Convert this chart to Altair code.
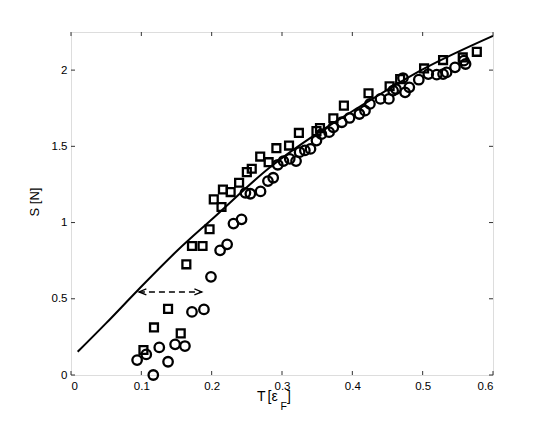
import altair as alt
import pandas as pd

# squares
sq_T = [0.103, 0.118, 0.138, 0.156, 0.164, 0.172, 0.187, 0.197, 0.203, 0.214, 0.216,
        0.227, 0.239, 0.250, 0.257, 0.269, 0.281, 0.292, 0.310, 0.324, 0.349, 0.354,
        0.373, 0.388, 0.423, 0.453, 0.468, 0.502, 0.529, 0.557, 0.577]
sq_S = [0.164, 0.312, 0.434, 0.273, 0.726, 0.846, 0.846, 0.956, 1.152, 1.102, 1.217,
        1.200, 1.261, 1.331, 1.353, 1.433, 1.396, 1.488, 1.505, 1.588, 1.600, 1.620,
        1.684, 1.767, 1.848, 1.894, 1.941, 2.011, 2.066, 2.083, 2.120]
# circles
ci_T = [0.094, 0.107, 0.117, 0.1255, 0.138, 0.148, 0.162, 0.172, 0.189, 0.199, 0.212,
        0.222, 0.231, 0.2425, 0.248, 0.255, 0.2695, 0.280, 0.2875, 0.294, 0.302, 0.311,
        0.320, 0.325, 0.3325, 0.3405, 0.349, 0.356, 0.367, 0.373, 0.385, 0.396, 0.410,
        0.418, 0.425, 0.440, 0.452, 0.458, 0.462, 0.472, 0.475, 0.481, 0.4945, 0.508,
        0.520, 0.529, 0.534, 0.546, 0.5585, 0.561]
ci_S = [0.098, 0.135, 0.000, 0.181, 0.087, 0.201, 0.190, 0.414, 0.430, 0.644, 0.818,
        0.857, 0.993, 1.021, 1.195, 1.189, 1.204, 1.272, 1.294, 1.379, 1.403, 1.418,
        1.403, 1.462, 1.473, 1.483, 1.538, 1.580, 1.593, 1.625, 1.658, 1.686, 1.712,
        1.734, 1.778, 1.811, 1.811, 1.865, 1.876, 1.948, 1.854, 1.887, 1.937, 1.974,
        1.970, 1.974, 1.985, 2.018, 2.062, 2.040]
# theory curve
line_T = [0.0095, 0.05, 0.095, 0.1516, 0.2, 0.283, 0.35, 0.4, 0.502, 0.6]
line_S = [0.152, 0.34, 0.556, 0.818, 1.02, 1.363, 1.585, 1.73, 2.01, 2.225]
# dashed double arrow
arrow_T = [0.0966, 0.186]
arrow_S = [0.545, 0.545]

x_ticks = [0, 0.1, 0.2, 0.3, 0.4, 0.5, 0.6]
y_ticks = [0, 0.5, 1, 1.5, 2]

W, H = 422, 343
FONT = "Liberation Sans"
xs = alt.Scale(domain=[0, 0.6], nice=False, zero=False)
ys = alt.Scale(domain=[0, 2.25], nice=False, zero=False)
xax = alt.Axis(values=x_ticks, format=".1~f", title=None, grid=False, domain=False,
               ticks=False, labelPadding=5, labelFont=FONT, labelFontSize=11.5,
               labelColor="black")
yax = alt.Axis(values=y_ticks, format="~g", title=None, grid=False, domain=False,
               ticks=False, labelPadding=4, labelFont=FONT, labelFontSize=11.5,
               labelColor="black")

def X(f):
    return alt.X(f, scale=xs, axis=xax)

def Y(f):
    return alt.Y(f, scale=ys, axis=yax)

line_df = pd.DataFrame({"T": line_T, "S": line_S})
sq_df = pd.DataFrame({"T": sq_T, "S": sq_S})
ci_df = pd.DataFrame({"T": ci_T, "S": ci_S})
arr_df = pd.DataFrame({"T": arrow_T, "S": arrow_S})
xt_df = pd.DataFrame({"T": x_ticks})
yt_df = pd.DataFrame({"S": y_ticks})

curve = alt.Chart(line_df).mark_line(color="black", strokeWidth=2, interpolate="monotone").encode(
    x=X("T:Q"), y=Y("S:Q"))

squares = alt.Chart(sq_df).mark_point(shape="square", filled=False, color="black", strokeWidth=2.3,
                                      size=62, opacity=1).encode(x=X("T:Q"), y=Y("S:Q"))

circles = alt.Chart(ci_df).mark_point(shape="circle", filled=False, color="black", strokeWidth=2.3,
                                      size=90, opacity=1).encode(x=X("T:Q"), y=Y("S:Q"))

arrow = alt.Chart(arr_df).mark_line(color="black", strokeWidth=1.5, strokeDash=[6, 4]).encode(
    x=X("T:Q"), y=Y("S:Q"))

head_l = alt.Chart(arr_df.iloc[[0]]).mark_point(shape="M1,-0.4L0,0L1,0.4", filled=False,
                                                color="black", strokeWidth=1.3, size=220, opacity=1).encode(
    x=X("T:Q"), y=Y("S:Q"))
head_r = alt.Chart(arr_df.iloc[[1]]).mark_point(shape="M-1,-0.4L0,0L-1,0.4", filled=False,
                                                color="black", strokeWidth=1.3, size=220, opacity=1).encode(
    x=X("T:Q"), y=Y("S:Q"))

TL = 4
tick_col = "#333"
tb = alt.Chart(xt_df).mark_rule(color=tick_col, strokeWidth=1).encode(
    x=X("T:Q"), y=alt.value(H), y2=alt.value(H - TL))
tt = alt.Chart(xt_df).mark_rule(color=tick_col, strokeWidth=1).encode(
    x=X("T:Q"), y=alt.value(0), y2=alt.value(TL))
tl = alt.Chart(yt_df).mark_rule(color=tick_col, strokeWidth=1).encode(
    y=Y("S:Q"), x=alt.value(0), x2=alt.value(TL))
tr = alt.Chart(yt_df).mark_rule(color=tick_col, strokeWidth=1).encode(
    y=Y("S:Q"), x=alt.value(W), x2=alt.value(W - TL))

one = pd.DataFrame({"a": [0]})
def label(txt, x, y, size=13, angle=0, align="left", baseline="alphabetic"):
    kw = dict(text=txt, font=FONT, fontSize=size, color="black", align=align, baseline=baseline)
    if angle:
        kw["angle"] = angle
    return alt.Chart(one).mark_text(**kw).encode(x=alt.value(x), y=alt.value(y))

xt1 = label("T", 186, 369, size=14)
xt2 = label("[\u03b5", 196.5, 369, size=14)
xt3 = label("F", 209.5, 377.5, size=10.5)
xt4 = label("]", 216, 369, size=14)
ytl = label("S [N]", -36, 170, angle=270, align="center", baseline="middle")

chart = alt.layer(curve, arrow, head_l, head_r, squares, circles, tb, tt, tl, tr,
                  xt1, xt2, xt3, xt4, ytl).properties(
    width=W, height=H,
    autosize=alt.AutoSizeParams(type="none"),
    padding={"left": 63, "top": 24, "right": 40, "bottom": 45},
).configure_view(stroke="#444", strokeWidth=1).configure(background="white")

chart.save("out.html", embed_options={"renderer": "svg", "actions": False})
